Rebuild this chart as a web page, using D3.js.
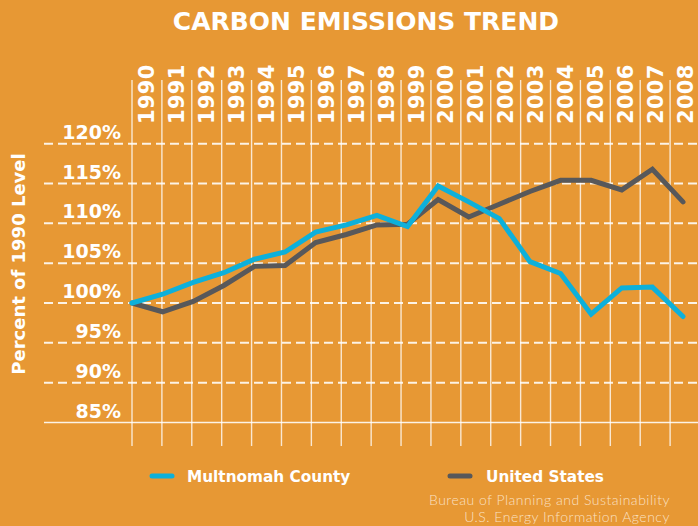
<!DOCTYPE html>
<html>
<head>
<meta charset="utf-8">
<script src="https://cdn.jsdelivr.net/npm/d3@7"></script>
<style>
  html, body { margin: 0; padding: 0; background: #e79834; }
  svg { display: block; }
</style>
</head>
<body>
<div id="chart"></div>
<script>
const years = [1990, 1991, 1992, 1993, 1994, 1995, 1996, 1997, 1998, 1999,
               2000, 2001, 2002, 2003, 2004, 2005, 2006, 2007, 2008];
// percent of 1990 level
const multnomah = [100, 101.1, 102.6, 103.8, 105.5, 106.4, 108.9, 109.8, 111.0, 109.6,
                   114.7, 112.7, 110.6, 105.2, 103.7, 98.6, 101.9, 102.0, 98.3];
const unitedStates = [100, 98.9, 100.2, 102.2, 104.6, 104.7, 107.6, 108.6, 109.8, 109.9,
                      113.0, 110.8, 112.4, 114.0, 115.4, 115.4, 114.2, 116.8, 112.7];
const yTicks = [85, 90, 95, 100, 105, 110, 115, 120];
const seriesNames = ["Multnomah County", "United States"];
const sources = ["Bureau of Planning and Sustainability", "U.S. Energy Information Agency"];

const bold = "'DejaVu Sans', sans-serif";

const paintChart = () => {
    const width = 698, height = 526;
    const colors = ["#0db0da", "#58585a"];

    const svg = d3.select("#chart").append("svg")
        .attr("width", width)
        .attr("height", height);

    svg.append("rect")
        .attr("width", width).attr("height", height)
        .attr("fill", "#e79834");

    // scales
    const x = d3.scaleLinear().domain([1990, 2008]).range([132, 683]);
    const col = d3.scaleBand().domain(years).range([132, 700]);
    const y = d3.scaleLinear().domain([85, 120]).range([422.5, 143.7]);

    // title
    svg.append("text")
        .attr("x", 366).attr("y", 30)
        .attr("text-anchor", "middle")
        .style("font-family", bold)
        .style("font-weight", 700)
        .style("font-size", "25px")
        .attr("fill", "#fff")
        .text("CARBON EMISSIONS TREND");

    // vertical year lines
    svg.append("g").selectAll("line")
        .data(years)
        .enter().append("line")
        .attr("x1", d => col(d)).attr("x2", d => col(d))
        .attr("y1", 80).attr("y2", 446)
        .attr("stroke", "rgba(255,255,255,0.78)")
        .attr("stroke-width", 1.4);

    // year labels (rotated)
    svg.append("g").selectAll("text")
        .data(years)
        .enter().append("text")
        .attr("transform", d => `translate(${col(d) + col.bandwidth() / 2 + 7.5},124) rotate(-90)`)
        .style("font-family", bold)
        .style("font-weight", 700)
        .style("font-size", "21px")
        .style("letter-spacing", "0.3px")
        .attr("fill", "#fff")
        .text(d => d);

    // horizontal grid lines
    svg.append("g").selectAll("line")
        .data(yTicks)
        .enter().append("line")
        .attr("x1", 44).attr("x2", width)
        .attr("y1", d => y(d)).attr("y2", d => y(d))
        .attr("stroke", "rgba(255,255,255,0.88)")
        .attr("stroke-width", d => d === 85 ? 1.6 : 2)
        .attr("stroke-dasharray", d => d === 85 ? null : "9,5");

    // y labels
    svg.append("g").selectAll("text")
        .data(yTicks)
        .enter().append("text")
        .attr("x", 121)
        .attr("y", d => y(d) - 5)
        .attr("text-anchor", "end")
        .style("font-family", bold)
        .style("font-weight", 700)
        .style("font-size", "19px")
        .attr("fill", "#fff")
        .text(d => d + "%");

    // y axis title
    svg.append("text")
        .attr("transform", "translate(25,264) rotate(-90)")
        .attr("text-anchor", "middle")
        .style("font-family", bold)
        .style("font-weight", 700)
        .style("font-size", "18px")
        .attr("fill", "#fff")
        .text("Percent of 1990 Level");

    // lines
    const line = d3.line()
        .x((d, i) => x(years[i]))
        .y(d => y(d));

    [unitedStates, multnomah].forEach((s, k) => {
        svg.append("path")
            .datum(s)
            .attr("d", line)
            .attr("fill", "none")
            .attr("stroke", k === 0 ? colors[1] : colors[0])
            .attr("stroke-width", 5)
            .attr("stroke-linejoin", "miter")
            .attr("stroke-linecap", "round");
    });

    // legend
    const legendX = [152, 450];
    const lg = svg.append("g").selectAll("g")
        .data(seriesNames)
        .enter().append("g")
        .attr("transform", (d, i) => `translate(${legendX[i]},476)`);
    lg.append("line")
        .attr("x1", 0).attr("x2", 20)
        .attr("stroke", (d, i) => colors[i])
        .attr("stroke-width", 5)
        .attr("stroke-linecap", "round");
    lg.append("text")
        .attr("x", (d, i) => i === 0 ? 35 : 36).attr("y", 6)
        .style("font-family", bold)
        .style("font-weight", 700)
        .style("font-size", "15.3px")
        .attr("fill", "#fff")
        .text(d => d);

    // source
    svg.append("g").selectAll("text")
        .data(sources)
        .enter().append("text")
        .attr("x", 670)
        .attr("y", (d, i) => 505 + i * 17)
        .attr("text-anchor", "end")
        .style("font-family", "Lato, sans-serif")
        .style("font-weight", 300)
        .style("font-size", "14px")
        .style("letter-spacing", "0.5px")
        .attr("fill", "rgba(255,245,230,0.8)")
        .text(d => d);
};

document.addEventListener("DOMContentLoaded", paintChart);
</script>
</body>
</html>
